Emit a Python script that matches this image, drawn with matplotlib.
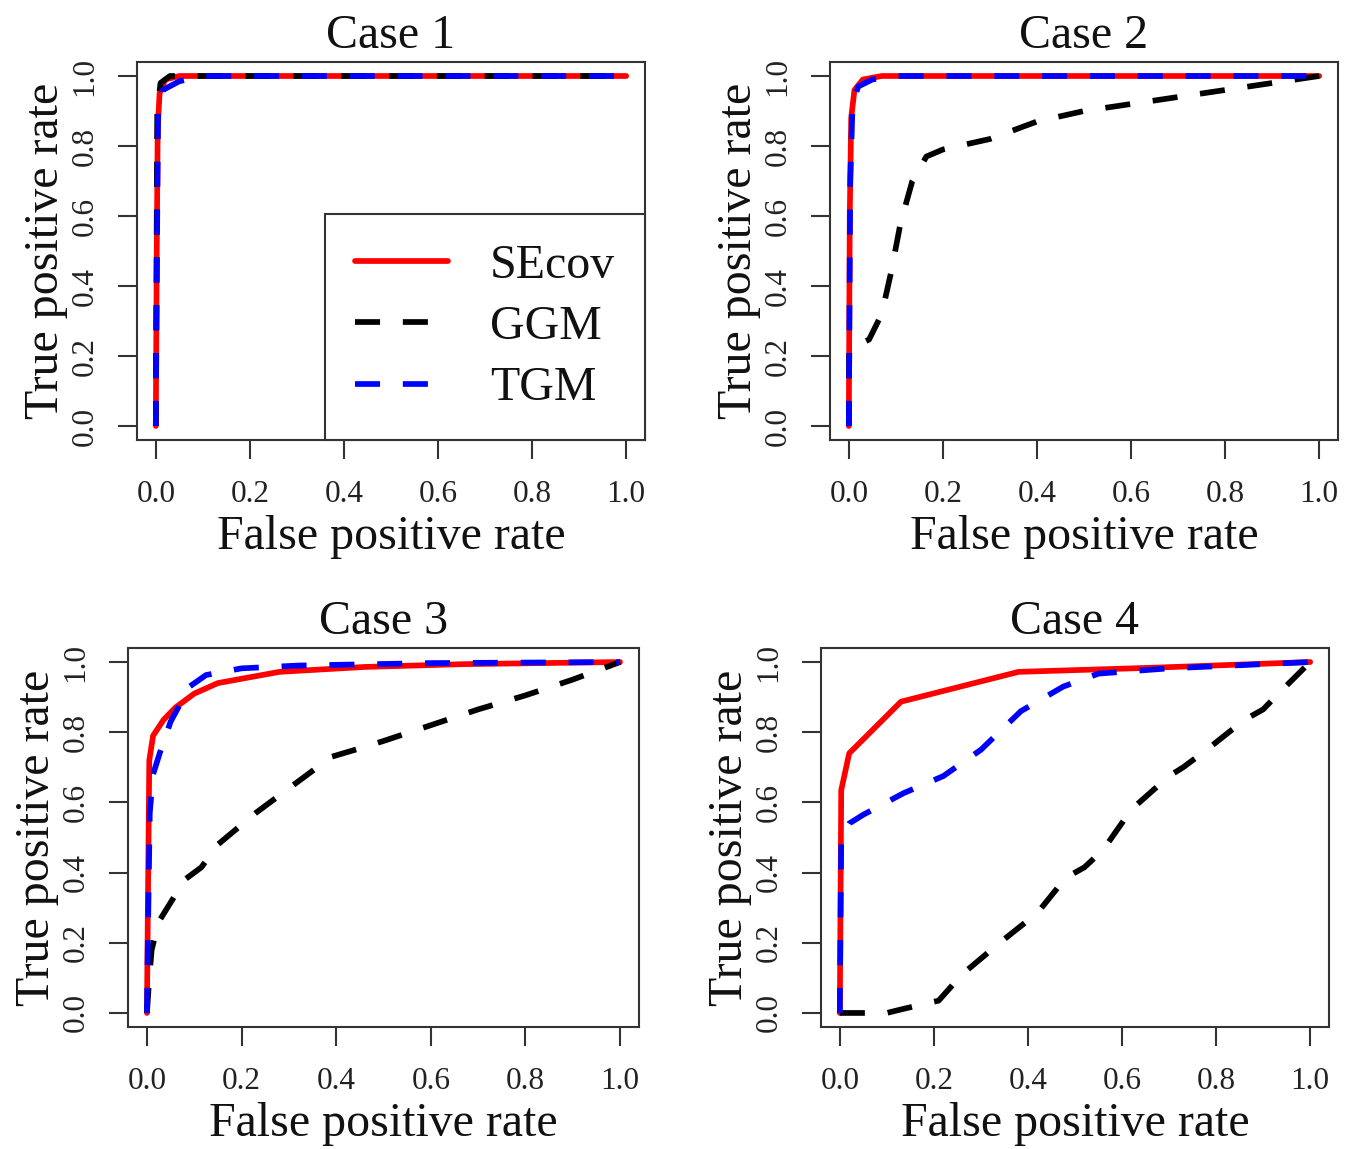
import matplotlib
matplotlib.use("Agg")
import matplotlib.pyplot as plt

plt.rcParams['font.family'] = ['Liberation Serif', 'DejaVu Serif']

W, H = 1358, 1149

titles = ["Case 1", "Case 2", "Case 3", "Case 4"]
series_names = ["SEcov", "GGM", "TGM"]
tick_values = [0.0, 0.2, 0.4, 0.6, 0.8, 1.0]
tick_labels = ["0.0", "0.2", "0.4", "0.6", "0.8", "1.0"]

# Case 1
secov1_x = [0, 0.002, 0.004, 0.008, 0.02, 0.05, 1.0]
secov1_y = [0, 0.5, 0.85, 0.95, 0.99, 1.0, 1.0]
ggm1_x = [0, 0.003, 0.01, 0.03, 1.0]
ggm1_y = [0, 0.9, 0.98, 1.0, 1.0]
tgm1_x = [0, 0.003, 0.005, 0.015, 0.05, 0.1, 1.0]
tgm1_y = [0, 0.6, 0.9, 0.96, 0.985, 1.0, 1.0]

# Case 2
secov2_x = [0, 0.002, 0.005, 0.012, 0.03, 0.07, 1.0]
secov2_y = [0, 0.6, 0.88, 0.96, 0.99, 1.0, 1.0]
ggm2_x = [0, 0.001, 0.043, 0.07, 0.09, 0.11, 0.135, 0.165, 0.2, 0.3, 0.4, 0.5, 0.6, 0.7, 0.8, 0.9, 1.0]
ggm2_y = [0, 0.22, 0.247, 0.32, 0.44, 0.58, 0.70, 0.77, 0.79, 0.82, 0.87, 0.90, 0.92, 0.94, 0.96, 0.98, 1.0]
tgm2_x = [0, 0.003, 0.008, 0.02, 0.05, 0.1, 1.0]
tgm2_y = [0, 0.7, 0.92, 0.97, 0.99, 1.0, 1.0]

# Case 3
secov3_x = [0, 0.002, 0.005, 0.013, 0.035, 0.06, 0.1, 0.15, 0.28, 0.46, 0.67, 1.0]
secov3_y = [0, 0.3, 0.72, 0.79, 0.835, 0.87, 0.91, 0.94, 0.972, 0.986, 0.994, 1.0]
ggm3_x = [0, 0.005, 0.01, 0.025, 0.08, 0.115, 0.15, 0.23, 0.3, 0.39, 0.44, 0.5, 0.6, 0.7, 0.8, 0.9, 1.0]
ggm3_y = [0, 0.1, 0.18, 0.26, 0.38, 0.415, 0.48, 0.57, 0.64, 0.73, 0.75, 0.775, 0.82, 0.865, 0.905, 0.95, 1.0]
tgm3_x = [0, 0.003, 0.006, 0.013, 0.027, 0.05, 0.09, 0.125, 0.2, 0.32, 0.6, 1.0]
tgm3_y = [0, 0.3, 0.57, 0.68, 0.74, 0.83, 0.93, 0.963, 0.982, 0.99, 0.997, 1.0]

# Case 4
secov4_x = [0, 0.003, 0.02, 0.13, 0.38, 0.67, 1.0]
secov4_y = [0, 0.635, 0.74, 0.887, 0.972, 0.984, 1.0]
ggm4_x = [0, 0.1, 0.13, 0.21, 0.26, 0.34, 0.42, 0.48, 0.52, 0.56, 0.62, 0.7, 0.73, 0.78, 0.86, 0.9, 0.94, 1.0]
ggm4_y = [0, 0.0, 0.01, 0.035, 0.11, 0.2, 0.285, 0.385, 0.415, 0.465, 0.58, 0.675, 0.70, 0.75, 0.835, 0.865, 0.92, 1.0]
tgm4_x = [0, 0.003, 0.02, 0.05, 0.135, 0.22, 0.3, 0.385, 0.475, 0.55, 0.7, 1.0]
tgm4_y = [0, 0.5, 0.54, 0.565, 0.626, 0.675, 0.75, 0.86, 0.93, 0.967, 0.982, 1.0]

cases = [
    ((secov1_x, secov1_y), (ggm1_x, ggm1_y), (tgm1_x, tgm1_y)),
    ((secov2_x, secov2_y), (ggm2_x, ggm2_y), (tgm2_x, tgm2_y)),
    ((secov3_x, secov3_y), (ggm3_x, ggm3_y), (tgm3_x, tgm3_y)),
    ((secov4_x, secov4_y), (ggm4_x, ggm4_y), (tgm4_x, tgm4_y)),
]

# axes boxes in pixels: left, top, right, bottom
boxes = [
    (137, 62, 645, 440),
    (830, 62, 1338, 440),
    (128, 648, 639, 1027),
    (821, 648, 1329, 1027),
]

colors = ["#ff0000", "#000000", "#0000ff"]
styles = ["-", (0, (4.4, 4.0)), (0, (4.4, 4.0))]
lw = 4.1
frame_col = "#333333"
big = 34.5
small = 22.5

fig = plt.figure(figsize=(W / 100, H / 100), dpi=100)

for i, (title, data, box) in enumerate(zip(titles, cases, boxes)):
    l, t, r, b = box
    ax = fig.add_axes([l / W, 1 - b / H, (r - l) / W, (b - t) / H])
    handles = []
    for (xs, ys), c, ls, name in zip(data, colors, styles, series_names):
        h, = ax.plot(xs, ys, color=c, linestyle=ls, lw=lw, label=name,
                     solid_capstyle='round', solid_joinstyle='round',
                     dash_joinstyle='round')
        handles.append(h)
    ax.set_xlim(-0.04, 1.04)
    ax.set_ylim(-0.04, 1.04)
    ax.set_xticks(tick_values)
    ax.set_xticklabels(tick_labels)
    ax.set_yticks(tick_values)
    ax.set_yticklabels(tick_labels, rotation=90, va='center')
    ax.tick_params(direction='out', length=14, width=1.5, color=frame_col,
                   labelsize=small, labelcolor='#222222')
    ax.tick_params(axis='x', pad=15)
    ax.tick_params(axis='y', pad=13)
    for s in ax.spines.values():
        s.set_color(frame_col)
        s.set_linewidth(1.5)
    ax.set_title(title, fontsize=big, pad=10, color='#111111')
    ax.set_xlabel("False positive rate", fontsize=big, labelpad=4, color='#111111')
    ax.set_ylabel("True positive rate", fontsize=big, labelpad=2, color='#111111')
    if i == 0:
        leg = ax.legend(handles=handles, loc='lower right', bbox_to_anchor=(1, 0),
                        borderaxespad=0, fontsize=big, handlelength=1.94,
                        handletextpad=0.88, labelspacing=0.36, borderpad=0.62,
                        fancybox=False, framealpha=1, edgecolor=frame_col)
        leg.get_frame().set_linewidth(1.5)
        for txt in leg.get_texts():
            txt.set_color('#111111')

fig.savefig("out.png", dpi=100)
